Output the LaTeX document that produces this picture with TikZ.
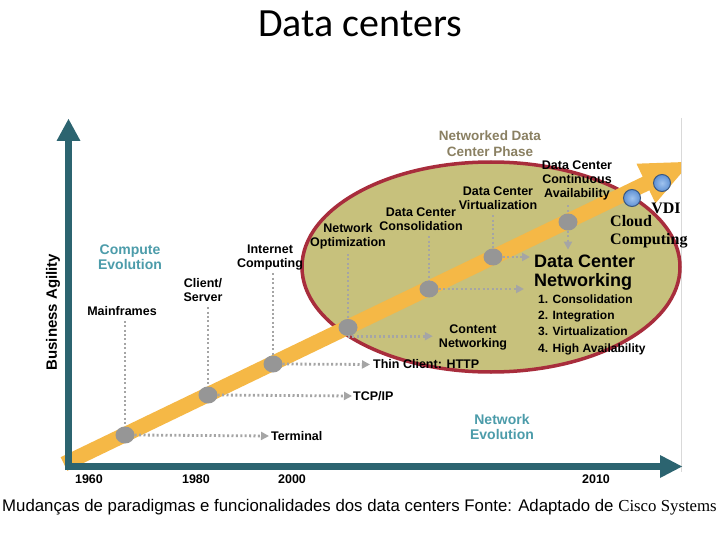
\documentclass[tikz,border=0pt]{standalone}
\usepackage{fontspec}
\setmainfont{Liberation Sans}
\newfontfamily\titlefont{Carlito}
\newfontfamily\cambria{Liberation Serif}
\usetikzlibrary{arrows.meta, positioning, shapes.geometric}
\definecolor{axTeal}{RGB}{44,100,112}
\definecolor{evoTeal}{RGB}{76,156,170}
\definecolor{bandOrange}{RGB}{245,184,70}
\definecolor{phaseKhaki}{RGB}{199,193,124}
\definecolor{phaseRed}{RGB}{168,45,60}
\definecolor{phaseText}{RGB}{138,128,98}
\definecolor{dotGray}{RGB}{150,150,150}
\definecolor{lineGray}{RGB}{165,165,165}
\definecolor{vdiBlue}{RGB}{95,145,212}
\definecolor{vdiLight}{RGB}{160,195,238}

\begin{document}
\begin{tikzpicture}[x=1pt, y=-1pt,
  lbl/.style={font=\fontsize{12.5}{14}\selectfont\bfseries, align=center, inner sep=0pt},
  tgt/.style={font=\fontsize{12.5}{14}\selectfont\bfseries, anchor=west, inner sep=0pt},
  evo/.style={font=\fontsize{14}{15}\selectfont\bfseries, text=evoTeal, align=center, inner sep=0pt},
  milestone/.style={ellipse, fill=dotGray, minimum width=19pt, minimum height=17pt, inner sep=0pt},
  riser/.style={lineGray, line width=2.8pt, dash pattern=on 2pt off 2.4pt},
  feed/.style={riser, -{Triangle[length=8pt,width=8pt]}},
  orb/.style={circle, minimum size=17pt, inner sep=0pt, draw=vdiBlue!60!black, line width=1pt,
    inner color=vdiLight, outer color=vdiBlue}]
  \useasboundingbox (0,0) rectangle (720,540);
  \fill[white] (0,0) rectangle (720,540);

  % Title
  \node[font=\titlefont\fontsize{40}{44}\selectfont] (title) at (360,24) {Data centers};

  % right edge of the figure
  \draw[black!15, line width=1pt] (681,118) -- (681,472);

  % Networked data center phase
  \draw[phaseRed, line width=3.5pt, fill=phaseKhaki] (491,267) ellipse [x radius=189pt, y radius=105pt];
  \node[font=\fontsize{13.5}{16}\selectfont\bfseries, text=phaseText, align=center] (phase) at (490,144) {Networked Data\\Center Phase};

  % Orange trend arrow (cut at the figure edge)
  \begin{scope}
    \clip (0,0) rectangle (681,540);
    \fill[bandOrange] (67.3,470.8) -- (60.7,457.2) -- (642.7,176.7) -- (636.5,163.7)
      -- (691,161.8) -- (655.5,203.3) -- (649.3,190.3) -- cycle;
  \end{scope}

  % Axes
  \draw[axTeal, line width=7pt] (64.5,466.5) -- (662,466.5);
  \fill[axTeal] (660,455) -- (682,466.5) -- (660,478) -- cycle;
  \draw[axTeal, line width=7.5pt] (68.5,470) -- (68.5,138);
  \fill[axTeal] (56.5,141) -- (68.5,119) -- (80.5,141) -- cycle;
  \node[font=\fontsize{15}{16}\selectfont\bfseries, rotate=90] (agility) at (53,312) {Business Agility};
  \foreach \yr/\x in {1960/89, 1980/196, 2000/292, 2010/596}
    \node[lbl] (y\yr) at (\x,479) {\yr};

  % Milestones on the trend
  \foreach \n/\x/\y in {d1/125/435, d2/208/395, d3/273/364, d4/348/327.5, d5/429/289, d6/493/257, d7/568/222}
    \node[milestone] (\n) at (\x,\y) {};

  % Compute evolution
  \node[evo] (compevo) at (130,257) {Compute\\Evolution};
  \node[lbl] (mainframes) at (122,311) {Mainframes};
  \node[lbl] (clientsrv) at (203,290.5) {Client/\\Server};
  \node[lbl] (inetcomp) at (270,257.5) {Internet\\Computing};
  \node[lbl] (netopt) at (348,236) {Network\\Optimization};
  \node[lbl] (dccons) at (421,219.5) {Data Center\\Consolidation};
  \node[lbl] (dcvirt) at (498,198.5) {Data Center\\Virtualization};
  \node[lbl] (dccont) at (577,180.5) {Data Center\\Continuous\\Availability};

  \draw[riser, shorten <=5pt] (d1 |- mainframes.south) -- (d1.north);
  \draw[riser, shorten <=5pt] (d2 |- clientsrv.south) -- (d2.north);
  \draw[riser, shorten <=3pt] (d3 |- inetcomp.south) -- (d3.north);
  \draw[riser, shorten <=5pt] (d4 |- netopt.south) -- (d4.north);
  \draw[riser, shorten <=5pt] (d5 |- dccons.south) -- (d5.north);
  \draw[riser, shorten <=5pt] (d6 |- dcvirt.south) -- (d6.north);
  \draw[riser, shorten <=5pt] (d7 |- dccont.south) -- (d7.north);

  % Network evolution
  \node[evo] (netevo) at (502,426.5) {Network\\Evolution};
  \node[tgt] (terminal) at (271,436) {Terminal};
  \node[tgt] (tcpip) at (353,396) {TCP/IP};
  \node[tgt] (thinclient) at (373,364.5) {Thin Client: HTTP};
  \node[lbl] (contnet) at (473,337.5) {Content\\Networking};
  \node[font=\fontsize{18}{19}\selectfont\bfseries, align=left, anchor=west, inner sep=0pt] (dcn) at (534,272.5) {Data Center\\Networking};
  \node[font=\fontsize{12}{16.3}\selectfont\bfseries, align=left, anchor=west, inner sep=0pt] (dclist) at (538,324.5)
    {1. Consolidation\\2. Integration\\3. Virtualization\\4. High Availability};
  \coordinate (consend) at (524,289);

  \draw[feed, shorten >=2pt] (d1.east) -- (terminal.west);
  \draw[feed, shorten >=1pt] (d2.east) -- (tcpip.west);
  \draw[feed, shorten >=3pt] (d3.east) -- (thinclient.west);
  \draw[feed] (d4.south) -- ([xshift=-6pt]contnet.west |- d4.south);
  \draw[feed] (d5.east) -- (consend);
  \draw[feed, shorten >=4pt] (d6.east) -- (d6.east -| dcn.west);
  \draw[feed, shorten >=5pt] (d7.south) -- (d7.south |- dcn.north);

  % Cloud / VDI
  \node[orb] (cloud) at (632,198) {};
  \node[orb] (vdi) at (662,183) {};
  \node[font=\cambria\bfseries\fontsize{16}{18}\selectfont, inner sep=0pt] (vdilbl) at (666,208) {VDI};
  \node[font=\cambria\bfseries\fontsize{16}{18}\selectfont, align=left, anchor=west, inner sep=0pt] (cloudlbl) at (610,232) {Cloud\\Computing};

  % Caption
  \node[font=\fontsize{16.8}{18}\selectfont, anchor=west, inner sep=0pt] (caption) at (2,507)
    {Mudanças de paradigmas e funcionalidades dos data centers Fonte: Adaptado de {\cambria Cisco Systems}};
\end{tikzpicture}
\end{document}
